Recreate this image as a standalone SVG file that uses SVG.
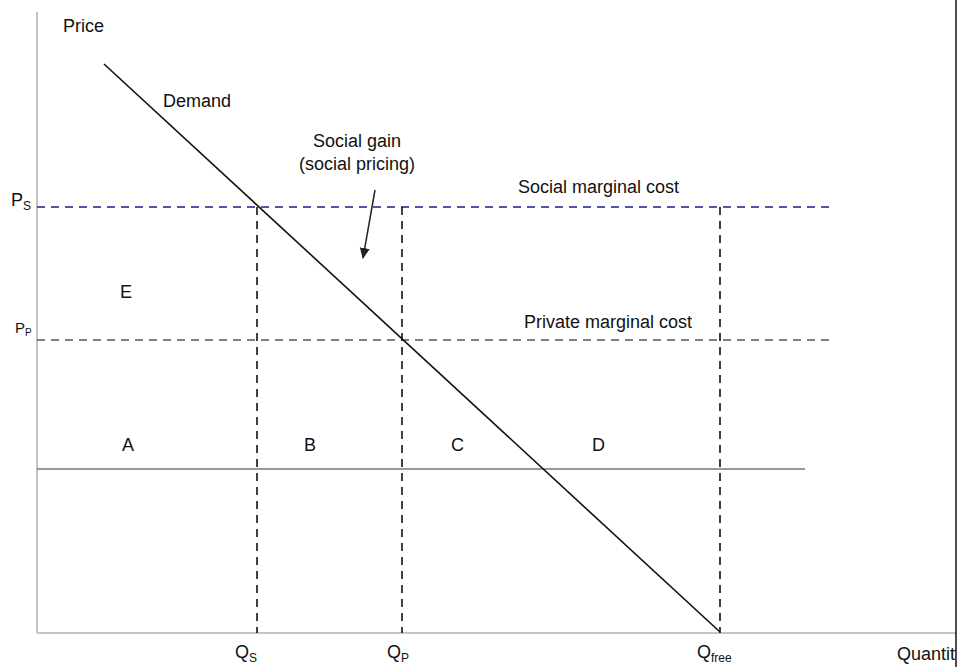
<svg xmlns="http://www.w3.org/2000/svg" width="959" height="667" viewBox="0 0 959 667">
<style>
text{font-family:"Liberation Sans",Arial,sans-serif;font-size:18px;fill:#111}
.sub{font-size:12px}
.axis{stroke:#c4c4c4;stroke-width:2;fill:none}
.vd{stroke:#111;stroke-width:1.6;stroke-dasharray:8,6;fill:none}
</style>
<defs>
<marker id="ah" markerWidth="12" markerHeight="12" refX="10" refY="5" orient="auto" markerUnits="userSpaceOnUse">
<path d="M0,0 L11,5 L0,10 z" fill="#222"/>
</marker>
</defs>
<rect width="959" height="667" fill="#fff"/>
<g id="axes">
<line class="axis" x1="37" y1="12" x2="37" y2="633"/>
<line class="axis" x1="37" y1="633" x2="956" y2="633"/>
</g>
<g id="connectors">
<line x1="37" y1="207" x2="833" y2="207" stroke="#1c1c8c" stroke-width="1.6" stroke-dasharray="8,6"/>
<line x1="37" y1="340" x2="833" y2="340" stroke="#555" stroke-width="1.6" stroke-dasharray="8,6"/>
<line class="vd" x1="257" y1="207" x2="257" y2="633"/>
<line class="vd" x1="402" y1="207" x2="402" y2="633"/>
<line class="vd" x1="720" y1="207" x2="720" y2="633"/>
<line x1="37" y1="469" x2="805" y2="469" stroke="#777" stroke-width="1.6"/>
<line x1="104" y1="64" x2="720" y2="632" stroke="#111" stroke-width="1.6"/>
<line x1="375" y1="190" x2="363" y2="258" stroke="#222" stroke-width="1.5" marker-end="url(#ah)"/>
</g>
<g id="labels">
<text x="63" y="32">Price</text>
<text x="163" y="107">Demand</text>
<text x="357" y="147" text-anchor="middle">Social gain</text>
<text x="357" y="170" text-anchor="middle">(social pricing)</text>
<text x="518" y="193">Social marginal cost</text>
<text x="524" y="328">Private marginal cost</text>
<text x="120" y="298">E</text>
<text x="122" y="451">A</text>
<text x="304" y="451">B</text>
<text x="451" y="451">C</text>
<text x="592" y="451">D</text>
<text x="11" y="206">P<tspan class="sub" dy="4">S</tspan></text>
<text x="15" y="333" style="font-size:15px">P<tspan style="font-size:10px" dy="3">P</tspan></text>
<text x="235" y="658">Q<tspan class="sub" dy="4">S</tspan></text>
<text x="387" y="658">Q<tspan class="sub" dy="4">P</tspan></text>
<text x="697" y="658">Q<tspan class="sub" dy="4">free</tspan></text>
<text x="897" y="660">Quantity</text>
</g>
<rect x="956" y="0" width="3" height="667" fill="#fff"/>
<line x1="956" y1="0" x2="956" y2="667" stroke="#111" stroke-width="1.5"/>
</svg>
